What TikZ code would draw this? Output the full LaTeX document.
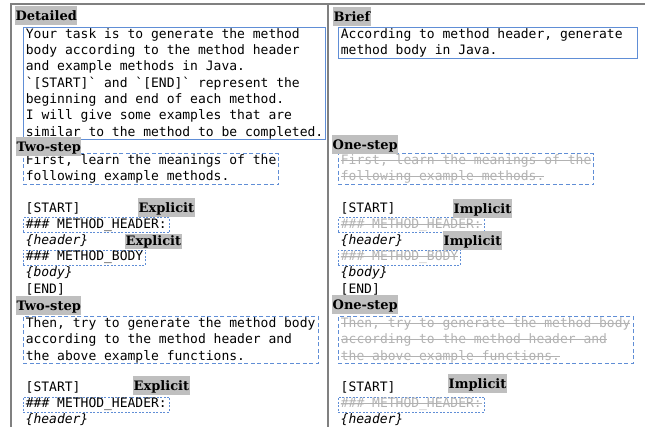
\documentclass[tikz,border=0pt]{standalone}
\usepackage{fontspec}
\usepackage{xcolor}
\usepackage{tikz}
\usetikzlibrary{positioning}

\newfontfamily\codefont[WordSpace={1,0,0}]{DejaVu Sans Mono}
\newfontfamily\tagfont{DejaVu Serif}
\definecolor{promptblue}{RGB}{96,142,214}
\definecolor{framegray}{RGB}{128,128,128}
\newcommand{\codesize}{\codefont\fontsize{13}{16.3}\selectfont}
\newcommand{\tagsize}{\tagfont\bfseries\fontsize{13}{15}\selectfont}
\newcommand{\grv}{\char96\relax}
\newcommand{\fullspace}{\spaceskip=0pt\xspaceskip=0pt\relax}
\newsavebox{\strkbox}
\newcommand{\strk}[1]{\sbox{\strkbox}{\color{black!30}#1}\rlap{\color{black!30}\rule[0.3em]{\wd\strkbox}{0.6pt}}\usebox{\strkbox}}

\begin{document}
\begin{tikzpicture}[x=1pt, y=1pt,
    tag/.style={fill=black!25, font=\tagsize, inner xsep=0.5pt, inner ysep=2pt, text height=12pt, text depth=3pt, anchor=north west},
    prompt/.style={draw=promptblue, line width=0.8pt, font=\codesize, align=left, inner xsep=2.5pt, inner ysep=1pt, anchor=north west},
    stepbox/.style={prompt, dash pattern=on 4pt off 2.5pt},
    codeline/.style={font=\codesize, inner xsep=2.5pt, inner ysep=1.5pt, text height=9.5pt, text depth=3.5pt, anchor=north west},
    keyline/.style={codeline, draw=promptblue, line width=0.8pt, dash pattern=on 2pt off 1.5pt, inner ysep=1pt}
]
\useasboundingbox (0,0) rectangle (645,427);

% frame
\draw[framegray, line width=1.5pt] (645,423) -- (11,423) -- (11,0);
\draw[framegray, line width=1.5pt] (328,423) -- (328,0);

% left column: detailed, two-step, explicit
\node[prompt] (detailed) at (23,400) {Your task is to generate the method\\body according to the method header\\and example methods in Java.\\\grv[START]\grv{} and \grv[END]\grv{} represent the\\beginning and end of each method.\\I will give some examples that are\\similar to the method to be completed.};
\node[stepbox, below right=13pt and 0pt of detailed.south west] (learn) {First, learn the meanings of the\\following example methods.};
\node[codeline, below right=16pt and 0pt of learn.south west] (start) {[START]};
\node[keyline, below right=0pt and 0pt of start.south west] (hdrkey) {\#\#\# METHOD\_HEADER:};
\node[codeline, below right=0pt and 0pt of hdrkey.south west] (header) {\itshape\{header\}};
\node[keyline, below right=0pt and 0pt of header.south west] (bodykey) {\#\#\# METHOD\_BODY};
\node[codeline, below right=0pt and 0pt of bodykey.south west] (body) {\itshape\{body\}};
\node[codeline, below right=0pt and 0pt of body.south west] (end) {[END]};
\node[stepbox, below right=18pt and 0pt of end.south west] (generate) {Then, try to generate the method body\\according to the method header and\\the above example functions.};
\node[codeline, below right=16pt and 0pt of generate.south west] (start2) {[START]};
\node[keyline, below right=0pt and 0pt of start2.south west] (hdrkey2) {\#\#\# METHOD\_HEADER:};
\node[codeline, below right=0pt and 0pt of hdrkey2.south west] (header2) {\itshape\{header\}};

% right column: brief, one-step, implicit
\node[prompt, text width=294pt] (brief) at (338,400) {\fullspace According to method header, generate\\method body in Java.};
\node[stepbox, anchor=north west] (learnR) at (learn.north west -| brief.south west) {\strk{First, learn the meanings of the}\\\strk{following example methods.}};
\node[codeline, below right=16pt and 0pt of learnR.south west] (startR) {[START]};
\node[keyline, below right=0pt and 0pt of startR.south west] (hdrkeyR) {\strk{\#\#\# METHOD\_HEADER:}};
\node[codeline, below right=0pt and 0pt of hdrkeyR.south west] (headerR) {\itshape\{header\}};
\node[keyline, below right=0pt and 0pt of headerR.south west] (bodykeyR) {\strk{\#\#\# METHOD\_BODY}};
\node[codeline, below right=0pt and 0pt of bodykeyR.south west] (bodyR) {\itshape\{body\}};
\node[codeline, below right=0pt and 0pt of bodyR.south west] (endR) {[END]};
\node[stepbox, below right=18pt and 0pt of endR.south west] (generateR) {\strk{Then, try to generate the method body}\\\strk{according to the method header and}\\\strk{the above example functions.}};
\node[codeline, below right=16pt and 0pt of generateR.south west] (start2R) {[START]};
\node[keyline, below right=0pt and 0pt of start2R.south west] (hdrkey2R) {\strk{\#\#\# METHOD\_HEADER:}};
\node[codeline, below right=0pt and 0pt of hdrkey2R.south west] (header2R) {\itshape\{header\}};

% tags
\node[tag] (tdetailed) at (15,421) {Detailed};
\node[tag] (tbrief) at (333,420) {Brief};
\node[tag] (ttwo) at (16,290) {Two-step};
\node[tag] (tone) at (332,292) {One-step};
\node[tag] (texp) at (138,229) {Explicit};
\node[tag, inner ysep=0.5pt, text height=11pt] (texp2) at (125,193) {Explicit};
\node[tag] (timp) at (453,228) {Implicit};
\node[tag] (timp2) at (443,196) {Implicit};
\node[tag] (ttwo2) at (16,131) {Two-step};
\node[tag] (tone2) at (332,132) {One-step};
\node[tag] (texp3) at (133,51) {Explicit};
\node[tag] (timp3) at (448,53) {Implicit};

\end{tikzpicture}
\end{document}
